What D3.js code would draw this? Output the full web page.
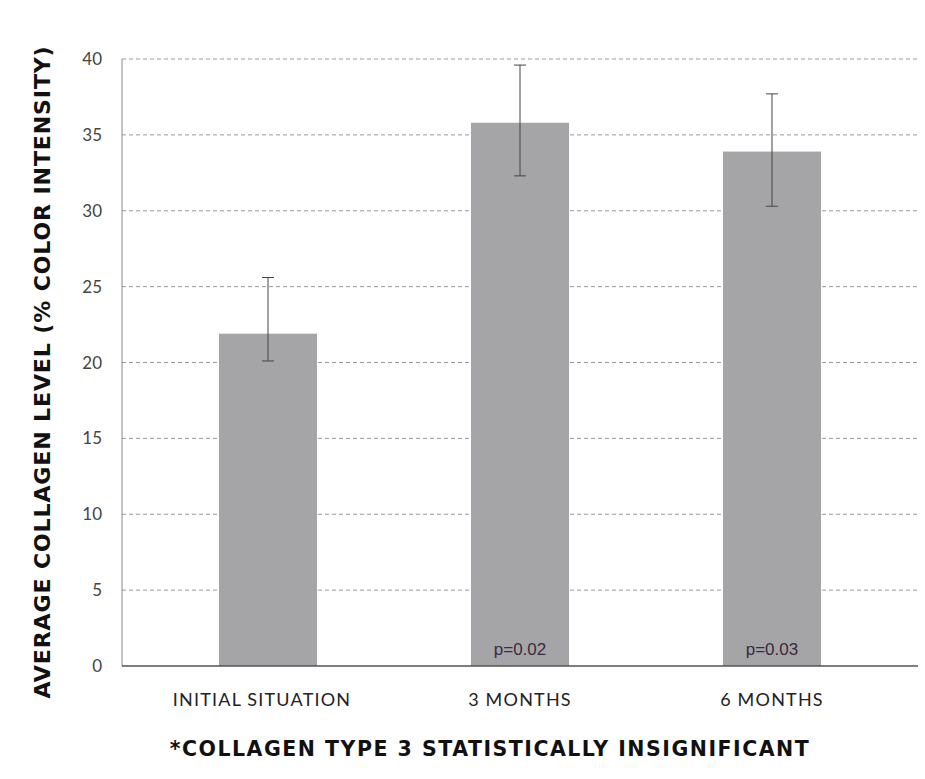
<!DOCTYPE html><html><head><script src="https://cdn.jsdelivr.net/npm/d3@7"></script>
<style>body{margin:0;background:#fff}</style></head><body><svg width="925" height="779"></svg>
<script>
const categories=["INITIAL SITUATION","3 MONTHS","6 MONTHS"];
const values=[21.9,35.8,33.9];
const errLow=[20.1,32.3,30.3];
const errHigh=[25.6,39.6,37.7];
const pLabels=["","p=0.02","p=0.03"];
const yTicks=[0,5,10,15,20,25,30,35,40];
const svg=d3.select("svg");
const L=122,R=918,T=59,B=666;
const y=d3.scaleLinear().domain([0,40]).range([B,T]);
const x=d3.scaleBand().domain(categories).range([143.4,896.6]).paddingInner(0.611).paddingOuter(0.3);
svg.selectAll(".g").data(yTicks.slice(1)).join("line").attr("x1",L).attr("x2",R).attr("y1",d=>y(d)).attr("y2",d=>y(d))
 .attr("stroke","#999").attr("stroke-dasharray","4,3");
svg.selectAll(".t").data(yTicks).join("text").attr("x",L-20).attr("y",d=>y(d)+6).attr("text-anchor","end")
 .attr("font-family","Lato, sans-serif").attr("font-size",17).attr("fill","#444").text(d=>d);
svg.selectAll(".b").data(values).join("rect").attr("x",(d,i)=>x(categories[i])).attr("width",x.bandwidth())
 .attr("y",d=>y(d)).attr("height",d=>B-y(d)).attr("fill","#a5a5a7");
values.forEach((v,i)=>{const cx=x(categories[i])+x.bandwidth()/2;
 svg.append("line").attr("x1",cx).attr("x2",cx).attr("y1",y(errHigh[i])).attr("y2",y(errLow[i])).attr("stroke","#444");
 [errHigh[i],errLow[i]].forEach(e=>svg.append("line").attr("x1",cx-6).attr("x2",cx+6).attr("y1",y(e)).attr("y2",y(e)).attr("stroke","#444"));
 svg.append("text").attr("x",cx).attr("y",B-11).attr("text-anchor","middle").attr("font-family","Liberation Sans, Arial").attr("font-size",17).attr("fill","#3a2a40").text(pLabels[i]);
 svg.append("text").attr("x",cx-6*(i==0)).attr("y",706).attr("text-anchor","middle").attr("font-family","Lato, sans-serif").attr("font-size",18).attr("letter-spacing",1.2).attr("fill","#222").text(categories[i]);
});
svg.append("line").attr("x1",L).attr("x2",L).attr("y1",T).attr("y2",B).attr("stroke","#888");
svg.append("line").attr("x1",L).attr("x2",R).attr("y1",B).attr("y2",B).attr("stroke","#555").attr("stroke-width",1.5);
svg.append("text").attr("transform","translate(50,372) rotate(-90)").attr("text-anchor","middle").attr("font-family","DejaVu Sans, sans-serif").attr("font-weight","bold").attr("font-size",22).attr("letter-spacing",0.9).attr("fill","#111").text("AVERAGE COLLAGEN LEVEL (% COLOR INTENSITY)");
svg.append("text").attr("x",490).attr("y",756).attr("text-anchor","middle").attr("font-family","DejaVu Sans, sans-serif").attr("font-weight","bold").attr("font-size",20.5).attr("letter-spacing",1.5).attr("fill","#111").text("*COLLAGEN TYPE 3 STATISTICALLY INSIGNIFICANT");
</script></body></html>
